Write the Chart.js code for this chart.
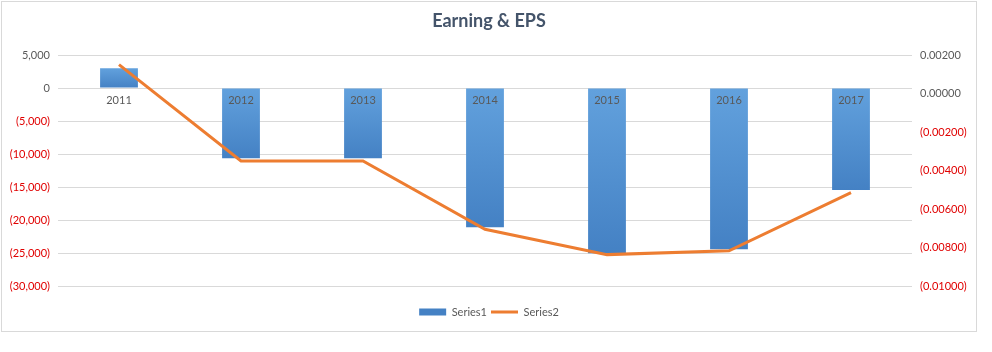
<!DOCTYPE html>
<html>
<head>
<meta charset="utf-8">
<script src="https://cdn.jsdelivr.net/npm/chart.js@4/dist/chart.umd.min.js"></script>
<style>
  html, body { margin: 0; padding: 0; background: #ffffff; }
  #frame { position: absolute; left: 1px; top: 1px; width: 976px; height: 331px; box-sizing: border-box; border: 1px solid #D9D9D9; background: #fff; }
  canvas { display: block; }
</style>
</head>
<body>
<div id="frame"><canvas id="c" width="974" height="329"></canvas></div>
<script>
const categories = ['2011', '2012', '2013', '2014', '2015', '2016', '2017'];
const earnings = [3000, -10650, -10650, -21100, -25050, -24450, -15450];
const eps = [0.0015, -0.0035, -0.0035, -0.00705, -0.00837, -0.00817, -0.00515];
const seriesNames = ['Series1', 'Series2'];
const chartTitle = 'Earning & EPS';

const GRAY = '#595959';
const RED = '#E00000';
const FONT = 'Lato, "Liberation Sans", sans-serif';

function fmtThousands(v) {
  const s = Math.abs(v).toLocaleString('en-US');
  return v < 0 ? '(' + s + ')' : s;
}
function fmtEps(v) {
  const s = Math.abs(v).toFixed(5);
  return v < -1e-12 ? '(' + s + ')' : s;
}

function barFill(ctx) {
  const chart = ctx.chart;
  if (ctx.type !== 'data' || !chart.chartArea || !chart.scales.y) return '#5A98D6';
  const ys = chart.scales.y;
  const a = ys.getPixelForValue(0);
  const b = ys.getPixelForValue(ctx.raw);
  const top = Math.min(a, b), bot = Math.max(a, b);
  if (!isFinite(top) || !isFinite(bot) || bot - top < 1) return '#5A98D6';
  const g = chart.ctx.createLinearGradient(0, top, 0, bot);
  g.addColorStop(0, '#62A1DD');
  g.addColorStop(1, '#4481C4');
  return g;
}

new Chart(document.getElementById('c'), {
  type: 'bar',
  data: {
    labels: categories,
    datasets: [
      {
        label: seriesNames[0],
        data: earnings,
        yAxisID: 'y',
        backgroundColor: barFill,
        borderWidth: 0,
        barPercentage: 0.31,
        categoryPercentage: 1.0,
        pointStyle: 'rect',
        order: 1
      },
      {
        type: 'line',
        label: seriesNames[1],
        data: eps,
        yAxisID: 'y2',
        borderColor: '#ED7D31',
        backgroundColor: '#ED7D31',
        borderWidth: 3,
        pointRadius: 0,
        tension: 0,
        pointStyle: 'line',
        order: 0
      }
    ]
  },
  options: {
    responsive: false,
    animation: false,
    layout: { padding: { left: 0, right: 0, top: 0, bottom: 3.5 } },
    plugins: {
      title: {
        display: true,
        text: chartTitle,
        color: '#44546A',
        font: { family: FONT, size: 18, weight: 'bold' },
        padding: { top: 8, bottom: 23.4 }
      },
      legend: {
        position: 'bottom',
        title: { display: true, text: '', font: { size: 1 }, padding: { top: 15.3, bottom: 0 } },
        labels: {
          usePointStyle: true,
          pointStyleWidth: 27,
          boxHeight: 7,
          color: GRAY,
          padding: 4,
          font: { family: FONT, size: 11 },
          sort: (a, b) => a.datasetIndex - b.datasetIndex
        }
      },
      tooltip: { enabled: false }
    },
    scales: {
      x: {
        position: { y: 0 },
        offset: true,
        grid: { display: false, drawTicks: false },
        border: { display: false },
        ticks: { z: 1, color: GRAY, padding: 6, font: { family: FONT, size: 11 } }
      },
      y: {
        position: 'left',
        min: -30000,
        max: 5000,
        grid: { color: '#D9D9D9', lineWidth: 1, drawTicks: false },
        border: { display: false },
        ticks: {
          stepSize: 5000,
          padding: 8,
          font: { family: FONT, size: 11 },
          color: (ctx) => (ctx.tick && ctx.tick.value < 0 ? RED : GRAY),
          callback: (v) => fmtThousands(v)
        },
        afterFit: (s) => { s.width = 56; }
      },
      y2: {
        position: 'right',
        min: -0.01,
        max: 0.002,
        grid: { display: false, drawTicks: false },
        border: { display: false },
        ticks: {
          stepSize: 0.002,
          padding: 8,
          font: { family: FONT, size: 11 },
          color: (ctx) => (ctx.tick && ctx.tick.value < -1e-12 ? RED : GRAY),
          callback: (v) => fmtEps(v)
        },
        afterFit: (s) => { s.width = 64; }
      }
    }
  }
});
</script>
</body>
</html>
